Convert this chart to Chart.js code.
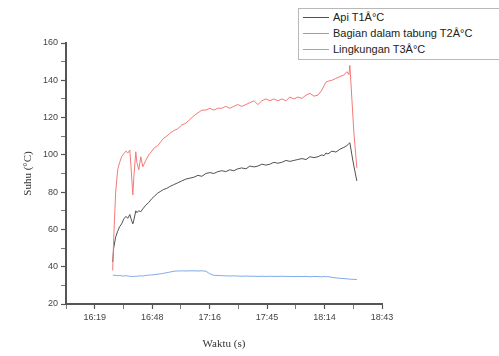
<!DOCTYPE html>
<html>
<head>
<meta charset="utf-8">
<script src="https://cdn.jsdelivr.net/npm/chart.js@4/dist/chart.umd.min.js"></script>
<style>
  html, body { margin: 0; padding: 0; background: #fff; width: 499px; height: 356px; overflow: hidden; }
  .wrap { position: relative; width: 499px; height: 356px; }
  .lgd { position: absolute; left: 298px; top: 8px; width: 230px; height: 50px; border: 1px solid #b8b8b8; background: #fff;
         font: 11px "Liberation Sans", Arial, sans-serif; color: #222; }
  .lgd div { height: 16px; line-height: 16px; display: flex; align-items: center; }
  .lgd span.ln { display: inline-block; width: 26px; height: 1px; margin: 0 4px 0 4px; }
</style>
</head>
<body>
<div class="wrap">
  <canvas id="c" width="499" height="356"></canvas>
  <div class="lgd" id="lgd"></div>
</div>
<script>
// waktu dalam menit sejak 00:00
const times = [
  988.2, 988.7, 989.7, 990.7, 991.7, 992.7, 993.7, 994.8, 995.8, 996.8,
  997.3, 998.3, 998.8, 999.8, 1000.3, 1001.3, 1002.3, 1003.3, 1004.8, 1006.3,
  1007.8, 1009.3, 1010.8, 1012.3, 1013.8, 1015.3, 1016.8, 1018.8, 1020.8, 1022.8,
  1024.9, 1026.9, 1028.9, 1030.9, 1032.9, 1034.9, 1036.9, 1038.9, 1040.9, 1042.9,
  1044.9, 1046.9, 1048.9, 1050.9, 1052.9, 1055.0, 1057.0, 1059.0, 1061.0, 1063.0,
  1065.0, 1067.0, 1069.0, 1071.0, 1073.0, 1075.0, 1077.0, 1079.0, 1081.0, 1083.1,
  1085.1, 1087.1, 1089.1, 1091.1, 1093.1, 1094.1, 1095.1, 1096.1, 1098.1, 1100.1,
  1102.1, 1104.1, 1105.6, 1106.6, 1107.1, 1108.1, 1109.1, 1110.6
];
const t1 = [
  42.5, 50, 56, 59, 61.5, 63, 65.5, 67, 66, 68,
  66, 63, 65, 70, 69, 70, 69.5, 71, 73, 74.5,
  76.5, 78, 79.5, 80.5, 81.5, 82, 83, 84, 85, 86,
  87, 87.5, 88, 89, 88.5, 90, 90.5, 90, 91, 91.5,
  91, 92, 91.5, 92.5, 93, 92.5, 94, 93.5, 94, 95,
  94.5, 95, 96, 95.5, 96, 97, 96.5, 97, 97.5, 98,
  97.5, 99, 98.5, 99, 100, 99.5, 101, 100.5, 102, 101.5,
  103, 104, 105, 106, 106.5, 100, 94, 86
];
const t2 = [
  38, 55, 80, 92, 96, 99, 100.5, 102, 101, 102.6,
  95, 78.5, 88, 101.7, 96, 92, 99, 93.6, 97, 100,
  102, 104, 105, 107, 109, 110, 111.5, 113, 114, 116,
  117, 119, 121, 122.5, 124, 124, 125, 124, 125, 125,
  126, 125, 126, 127, 126, 127, 128, 129, 127, 129,
  130, 129, 130, 129, 130, 129, 131, 130, 131, 130.3,
  132, 133, 131.5, 132, 134.8, 137, 139, 139.5, 140, 141,
  142, 142.8, 144.6, 143, 148, 130, 112, 93
];
const t3 = [
  35.5, 35.4, 35.3, 35.2, 35.3, 35.1, 35.0, 35.2, 35.0, 34.9,
  34.8, 34.7, 34.9, 34.8, 34.9, 35.0, 35.1, 35.0, 35.3, 35.5,
  35.6, 35.8, 36.0, 36.2, 36.5, 36.8, 37.1, 37.6, 37.7, 37.8,
  37.7, 37.8, 37.8, 37.7, 37.8, 37.6, 36.2, 35.4, 35.3, 35.2,
  35.1, 35.0, 35.1, 35.0, 34.9, 35.0, 34.9, 34.9, 34.8, 34.9,
  34.8, 34.9, 34.8, 34.8, 34.9, 34.8, 34.8, 34.7, 34.8, 34.7,
  34.8, 34.6, 34.8, 34.7, 34.5, 34.8, 34.6, 34.7, 34.3, 34.0,
  33.8, 33.6, 33.5, 33.4, 33.3, 33.3, 33.2, 33.1
];
const seriesNames = ['Api T1Â°C', 'Bagian dalam tabung T2Â°C', 'Lingkungan T3Â°C'];
const seriesColors = ['#505050', '#f27a7a', '#7fa9e8'];
const xTickPos = [979.2, 1008, 1036.8, 1065.6, 1094.4, 1123.2];
const xTickLabels = ['16:19', '16:48', '17:16', '17:45', '18:14', '18:43'];
const yTicks = [20, 40, 60, 80, 100, 120, 140, 160];

const pts = arr => arr.map((v, i) => ({ x: times[i], y: v }));
const series = [t1, t2, t3];

// minor ticks halfway between the majors
const xMinor = [964.8].concat(xTickPos.slice(1).map((v, i) => (v + xTickPos[i]) / 2));
const xAll = xMinor.concat(xTickPos).sort((a, b) => a - b);
const yAll = [];
for (let i = 0; i < yTicks.length; i++) { yAll.push(yTicks[i]); if (i < yTicks.length - 1) yAll.push((yTicks[i] + yTicks[i + 1]) / 2); }

const tickFont = { family: '"Liberation Sans", Arial, sans-serif', size: 9 };
const titleFont = { family: '"Liberation Serif", "Times New Roman", serif', size: 11 };
const axisC = '#555';

new Chart(document.getElementById('c'), {
  type: 'line',
  data: {
    datasets: series.map((s, i) => ({
      label: seriesNames[i], data: pts(s), borderColor: seriesColors[i],
      borderWidth: 1, pointRadius: 0, tension: 0, fill: false
    })).reverse()
  },
  options: {
    responsive: false, animation: false,
    layout: { padding: { left: 0, right: 117, top: 43, bottom: 0 } },
    plugins: { legend: { display: false }, tooltip: { enabled: false } },
    scales: {
      x: {
        type: 'linear', min: 964.8, max: 1123.2,
        afterFit: s => { s.height = 52; },
        afterBuildTicks: s => { s.ticks = xAll.map(v => ({ value: v })); },
        grid: { drawOnChartArea: false, drawTicks: true, tickLength: 5, tickColor: axisC,
                tickWidth: c => xTickPos.includes(c.tick?.value) ? 1.2 : 0.8 },
        border: { color: axisC, width: 2 },
        ticks: { font: tickFont, color: '#444', padding: 3, maxRotation: 0, autoSkip: false,
                 callback: v => { const k = xTickPos.indexOf(v); return k >= 0 ? xTickLabels[k] : ''; } },
        title: { display: true, text: 'Waktu (s)', font: titleFont, color: '#333', padding: { top: 0, bottom: 5 } }
      },
      y: {
        min: 20, max: 160,
        afterFit: s => { s.width = 66; },
        afterBuildTicks: s => { s.ticks = yAll.map(v => ({ value: v })); },
        grid: { drawOnChartArea: false, drawTicks: true, tickLength: 5, tickColor: axisC,
                tickWidth: c => yTicks.includes(c.tick?.value) ? 1.2 : 0.8 },
        border: { color: axisC, width: 2 },
        ticks: { font: tickFont, color: '#444', padding: 3, autoSkip: false,
                 callback: v => yTicks.includes(v) ? String(v) : '' },
        title: { display: true, text: 'Suhu (°C)', font: titleFont, color: '#333', padding: { top: 22, bottom: 0 } }
      }
    }
  }
});

document.getElementById('lgd').innerHTML = seriesNames.map((n, i) =>
  `<div><span class="ln" style="background:${seriesColors[i]}"></span>${n}</div>`).join('');
</script>
</body>
</html>
